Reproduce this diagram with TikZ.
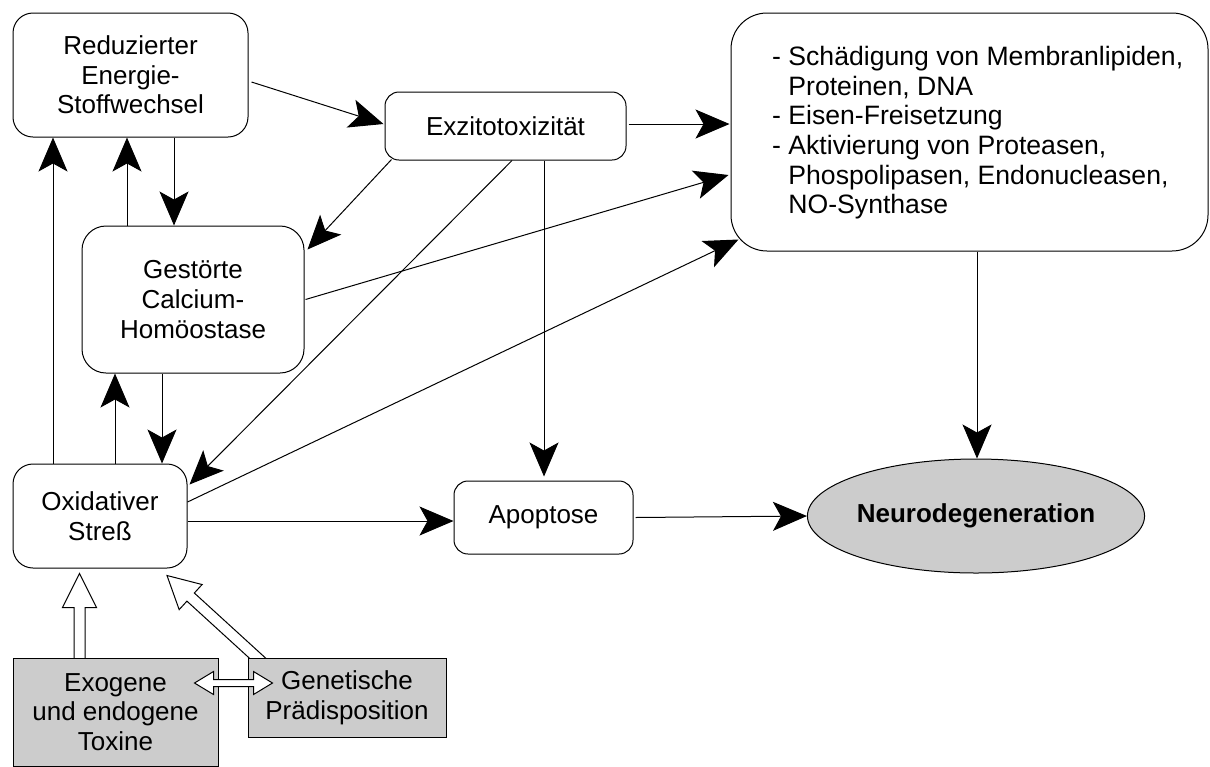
\documentclass[tikz,border=0pt]{standalone}
\usepackage{fontspec}
\setmainfont{Liberation Sans}
\usetikzlibrary{arrows.meta,calc,shapes.geometric}
\pgfdeclarelayer{background}
\pgfsetlayers{background,main}
\definecolor{boxgray}{HTML}{CCCCCC}
% hollow (outlined) arrow from #1 to tip #2: shaft half width #3, head half width #4, head length #5
\newcommand{\hollowarrow}[5]{%
  \coordinate (ha-h) at ($(#2)!#5!(#1)$);
  \draw[hollow] ($(#1)!#3!90:(#2)$) -- ($(ha-h)!#3!90:(#2)$) -- ($(ha-h)!#4!90:(#2)$) -- (#2)
    -- ($(ha-h)!#4!-90:(#2)$) -- ($(ha-h)!#3!-90:(#2)$) -- ($(#1)!#3!-90:(#2)$) -- cycle;}
% double-headed hollow arrow between tips #1 and #2
\newcommand{\doublehollow}[5]{%
  \coordinate (dh-l) at ($(#1)!#5!(#2)$);
  \coordinate (dh-r) at ($(#2)!#5!(#1)$);
  \draw[hollow] (#1) -- ($(dh-l)!#4!90:(#2)$) -- ($(dh-l)!#3!90:(#2)$) -- ($(dh-r)!#3!-90:(#1)$)
    -- ($(dh-r)!#4!-90:(#1)$) -- (#2) -- ($(dh-r)!#4!90:(#1)$) -- ($(dh-r)!#3!90:(#1)$)
    -- ($(dh-l)!#3!-90:(#2)$) -- ($(dh-l)!#4!-90:(#2)$) -- cycle;}
\tikzset{
  txt/.style={font=\fontsize{26}{29.7}\selectfont},
  box/.style={draw, line width=1pt, rounded corners=#1, align=center, inner sep=0pt, txt},
  graybox/.style={draw, line width=1pt, fill=boxgray, align=center, inner sep=0pt, txt},
  arr/.style={line width=1pt, -{Stealth[length=34pt, width=29pt, inset=8pt]}},
  hollow/.style={draw, line width=1pt, fill=white, line join=miter},
}
\begin{document}
\begin{tikzpicture}[x=1pt, y=-1pt]
\begin{pgfonlayer}{background}
  \path[use as bounding box, fill=white] (0,0) rectangle (1210,760);
\end{pgfonlayer}

% nodes
\node[box=20pt, minimum width=235pt, minimum height=124pt] (R) at (130.5,75) {Reduzierter\\Energie-\\Stoffwechsel};
\node[box=14pt, minimum width=241pt, minimum height=68pt] (E) at (505.5,126) {Exzitotoxizität};
\node[box=36pt, minimum width=477pt, minimum height=238pt] (S) at (969.5,132) {};
\node[font=\fontsize{26.6}{29.7}\selectfont, anchor=north west, inner sep=0pt, align=left] (St) at (772,46)
  {- Schädigung von Membranlipiden,\\
   \hphantom{- }Proteinen, DNA\\
   - Eisen-Freisetzung\\
   - Aktivierung von Proteasen,\\
   \hphantom{- }Phospolipasen, Endonucleasen,\\
   \hphantom{- }NO-Synthase};
\node[box=24pt, minimum width=222pt, minimum height=147pt] (C) at (193,299.5) {Gestörte\\Calcium-\\Homöostase};
\node[box=20pt, minimum width=174pt, minimum height=104pt] (O) at (100,516) {Oxidativer\\Streß};
\node[box=14pt, minimum width=179pt, minimum height=73pt] (A) at (543.5,517.5) {Apoptose};
\node[ellipse, draw, line width=1pt, fill=boxgray, minimum width=318pt, minimum height=114pt, inner sep=0pt, txt] (N) at (976,516) {\bfseries Neurodegeneration};
\node[graybox, minimum width=205pt, minimum height=108pt] (X) at (115.5,712) {Exogene\\und endogene\\Toxine};
\node[graybox, minimum width=198pt, minimum height=79pt] (G) at (347,697.5) {Genetische\\Prädisposition};

% connectors
\draw[arr] ([shift={(-47,0)}]O.north) -- ([shift={(-77.5,0)}]R.south);
\draw[arr] ([shift={(-66,0)}]C.north) -- ([shift={(-3.5,0)}]R.south);
\draw[arr] ([shift={(43.5,0)}]R.south) -- ([shift={(-19,0)}]C.north);
\draw[arr] ([shift={(15,0)}]O.north) -- ([shift={(-78,0)}]C.south);
\draw[arr] ([shift={(-31,0)}]C.south) -- ([shift={(62,0)}]O.north);
\draw[arr] ([shift={(3,7)}]R.east) -- ([shift={(-1,-2)}]E.west);
\draw[arr] ([shift={(2,-2)}]E.east) -- ([shift={(-1,-8)}]S.west);
\draw[arr] ([shift={(7,-1)}]E.south west) -- ([shift={(3,24)}]C.north east);
\draw[arr] ([shift={(6.5,0)}]E.south) -- ([shift={(2,21)}]O.north east);
\draw[arr] ([shift={(38.5,0)}]E.south) -- ([shift={(0.5,-4)}]A.north);
\draw[arr] ([shift={(1,0)}]C.east) -- ([shift={(-2,43)}]S.west);
\draw[arr] ([shift={(0,-14)}]O.east) -- ([shift={(8,-12)}]S.south west);
\draw[arr] ([shift={(0,5)}]O.east) -- ([shift={(0,3.5)}]A.west);
\draw[arr] ([shift={(2,0)}]A.east) -- (N.west);
\draw[arr] ([shift={(7.5,0)}]S.south) -- ([shift={(1,0)}]N.north);

% hollow arrows
\coordinate (u1) at ([shift={(-36,6)}]X.north);
\coordinate (u2) at ([shift={(-20.5,5)}]O.south);
\coordinate (d1) at ([shift={(17,7)}]G.north west);
\coordinate (d2) at ([shift={(67,7)}]O.south);
\coordinate (h1) at ([shift={(-24,-29)}]X.east);
\coordinate (h2) at ([shift={(25,-14.5)}]G.west);
\begin{pgfonlayer}{background}
  \hollowarrow{u1}{u2}{5.5pt}{17pt}{34pt}
  \hollowarrow{d1}{d2}{5.5pt}{17pt}{32pt}
\end{pgfonlayer}
\doublehollow{h1}{h2}{3.5pt}{11.5pt}{19pt}
\end{tikzpicture}
\end{document}
